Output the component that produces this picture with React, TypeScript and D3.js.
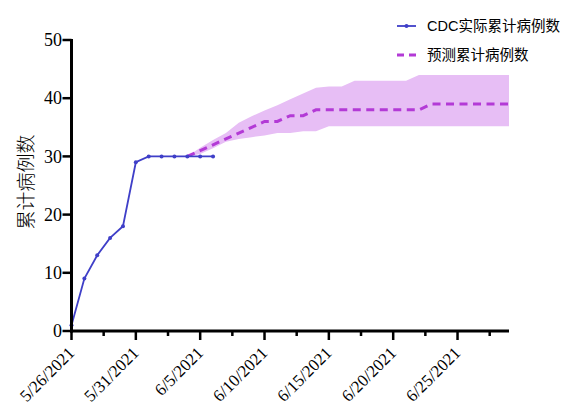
import React from "react";
import * as d3 from "d3";

const startDate = new Date(Date.UTC(2021, 4, 26));
const endDate = new Date(Date.UTC(2021, 5, 29));

const xTickLabels = ["5/26/2021", "5/31/2021", "6/5/2021", "6/10/2021", "6/15/2021", "6/20/2021", "6/25/2021"];
const yTicks = [0, 10, 20, 30, 40, 50];

// actual CDC cumulative cases, day offsets 0..11 from 5/26/2021
const actualDays = [0, 1, 2, 3, 4, 5, 6, 7, 8, 9, 10, 11];
const actualValues = [1, 9, 13, 16, 18, 29, 30, 30, 30, 30, 30, 30];

// predicted cumulative cases, day offsets 9..34
const predDays = [9, 10, 11, 12, 13, 14, 15, 16, 17, 18, 19, 20, 21, 22, 23, 24, 25, 26, 27, 28, 29, 30, 31, 32, 33, 34];
const predValues = [30, 31, 32, 33, 34, 35, 36, 36, 37, 37, 38, 38, 38, 38, 38, 38, 38, 38, 38, 39, 39, 39, 39, 39, 39, 39];
const predUpper = [30, 31.5, 32.8, 34, 35.8, 36.9, 37.9, 38.8, 39.8, 40.8, 41.8, 42, 42, 43, 43, 43, 43, 43, 44, 44, 44, 44, 44, 44, 44, 44];
const predLower = [30, 30.4, 31.4, 32.5, 33, 33.3, 33.6, 34, 34, 34.3, 34.3, 35.2, 35.2, 35.2, 35.2, 35.2, 35.2, 35.2, 35.2, 35.2, 35.2, 35.2, 35.2, 35.2, 35.2, 35.2];

const legendLabels = ["CDC实际累计病例数", "预测累计病例数"];
const yAxisTitle = "累计病例数";

const BLUE = "#3F3FC8";
const PURPLE = "#B33AD6";
const BAND = "#E7BEF5";

const dayMs = 24 * 3600 * 1000;
const dayToDate = (d: number) => new Date(startDate.getTime() + d * dayMs);

export default function App() {
  const x = d3.scaleUtc().domain([startDate, endDate]).range([71.5, 509]);
  const y = d3.scaleLinear().domain([0, 50]).range([331, 40]);

  const actual = actualDays.map((d, i) => ({ d: dayToDate(d), v: actualValues[i] }));
  const pred = predDays.map((d, i) => ({ d: dayToDate(d), v: predValues[i], hi: predUpper[i], lo: predLower[i] }));

  const line = d3.line<{ d: Date; v: number }>().x((p) => x(p.d)).y((p) => y(p.v));
  const area = d3
    .area<{ d: Date; hi: number; lo: number }>()
    .x((p) => x(p.d))
    .y0((p) => y(p.lo))
    .y1((p) => y(p.hi));

  const majorTicks = xTickLabels.map((_, i) => dayToDate(i * 5));
  const minorTicks = d3.range(0, 7).map((i) => dayToDate(i * 5 + 2.5));

  const serif = { fontFamily: '"Liberation Serif"' };
  const sans = { fontFamily: '"Liberation Sans", "Noto Sans CJK SC", sans-serif' };
  const cjk = { fontFamily: '"Noto Sans CJK SC", sans-serif' };

  return (
    <svg width={580} height={412} style={{ position: "absolute", left: 0, top: 0, background: "#fff" }}>
      <rect width={580} height={412} fill="#fff" />
      {/* band */}
      <path d={area(pred) || ""} fill={BAND} stroke="none" />
      {/* predicted dashed */}
      <path d={line(pred) || ""} fill="none" stroke={PURPLE} strokeWidth={3} strokeDasharray="8,5.5" />
      {/* actual */}
      <path d={line(actual) || ""} fill="none" stroke={BLUE} strokeWidth={1.8} />
      {actual.map((p, i) => (
        <circle key={i} cx={x(p.d)} cy={y(p.v)} r={2} fill={BLUE} />
      ))}

      {/* axes */}
      <line x1={x(startDate)} x2={x(startDate)} y1={y(50) - 1} y2={y(0) + 1.5} stroke="#000" strokeWidth={3} />
      <line x1={x(startDate) - 1.5} x2={x(endDate)} y1={y(0)} y2={y(0)} stroke="#000" strokeWidth={3} />
      {yTicks.map((t) => (
        <g key={t}>
          <line x1={x(startDate) - 9} x2={x(startDate)} y1={y(t)} y2={y(t)} stroke="#000" strokeWidth={2.5} />
          <text x={62} y={y(t)} dy="0.34em" textAnchor="end" style={serif} fontSize={18} fill="#000">
            {t}
          </text>
        </g>
      ))}
      {majorTicks.map((t, i) => (
        <g key={i}>
          <line x1={x(t)} x2={x(t)} y1={y(0)} y2={y(0) + 9} stroke="#000" strokeWidth={2.5} />
          <text
            transform={`translate(${x(t) + 4},${y(0) + 23}) rotate(-45)`}
            textAnchor="end"
            style={serif}
            fontSize={17}
            fill="#000"
          >
            {xTickLabels[i]}
          </text>
        </g>
      ))}
      {minorTicks.map((t, i) => (
        <line key={i} x1={x(t)} x2={x(t)} y1={y(0)} y2={y(0) + 5} stroke="#000" strokeWidth={2.5} />
      ))}

      {/* y axis title */}
      <text
        transform={`translate(33,${182}) rotate(-90)`}
        textAnchor="middle"
        style={cjk}
        fontSize={19}
        fontWeight={300}
        fill="#000"
      >
        {yAxisTitle}
      </text>

      {/* legend */}
      <line x1={397} x2={416} y1={26} y2={26} stroke={BLUE} strokeWidth={1.8} />
      <circle cx={406.5} cy={26} r={2} fill={BLUE} />
      <text x={427} y={26} dy="0.36em" style={sans} fontSize={14.5} fill="#000">
        {legendLabels[0]}
      </text>
      <line x1={397} x2={418} y1={55} y2={55} stroke={PURPLE} strokeWidth={3} strokeDasharray="7,5" />
      <text x={427} y={55} dy="0.36em" style={sans} fontSize={14.5} fill="#000">
        {legendLabels[1]}
      </text>
    </svg>
  );
}
